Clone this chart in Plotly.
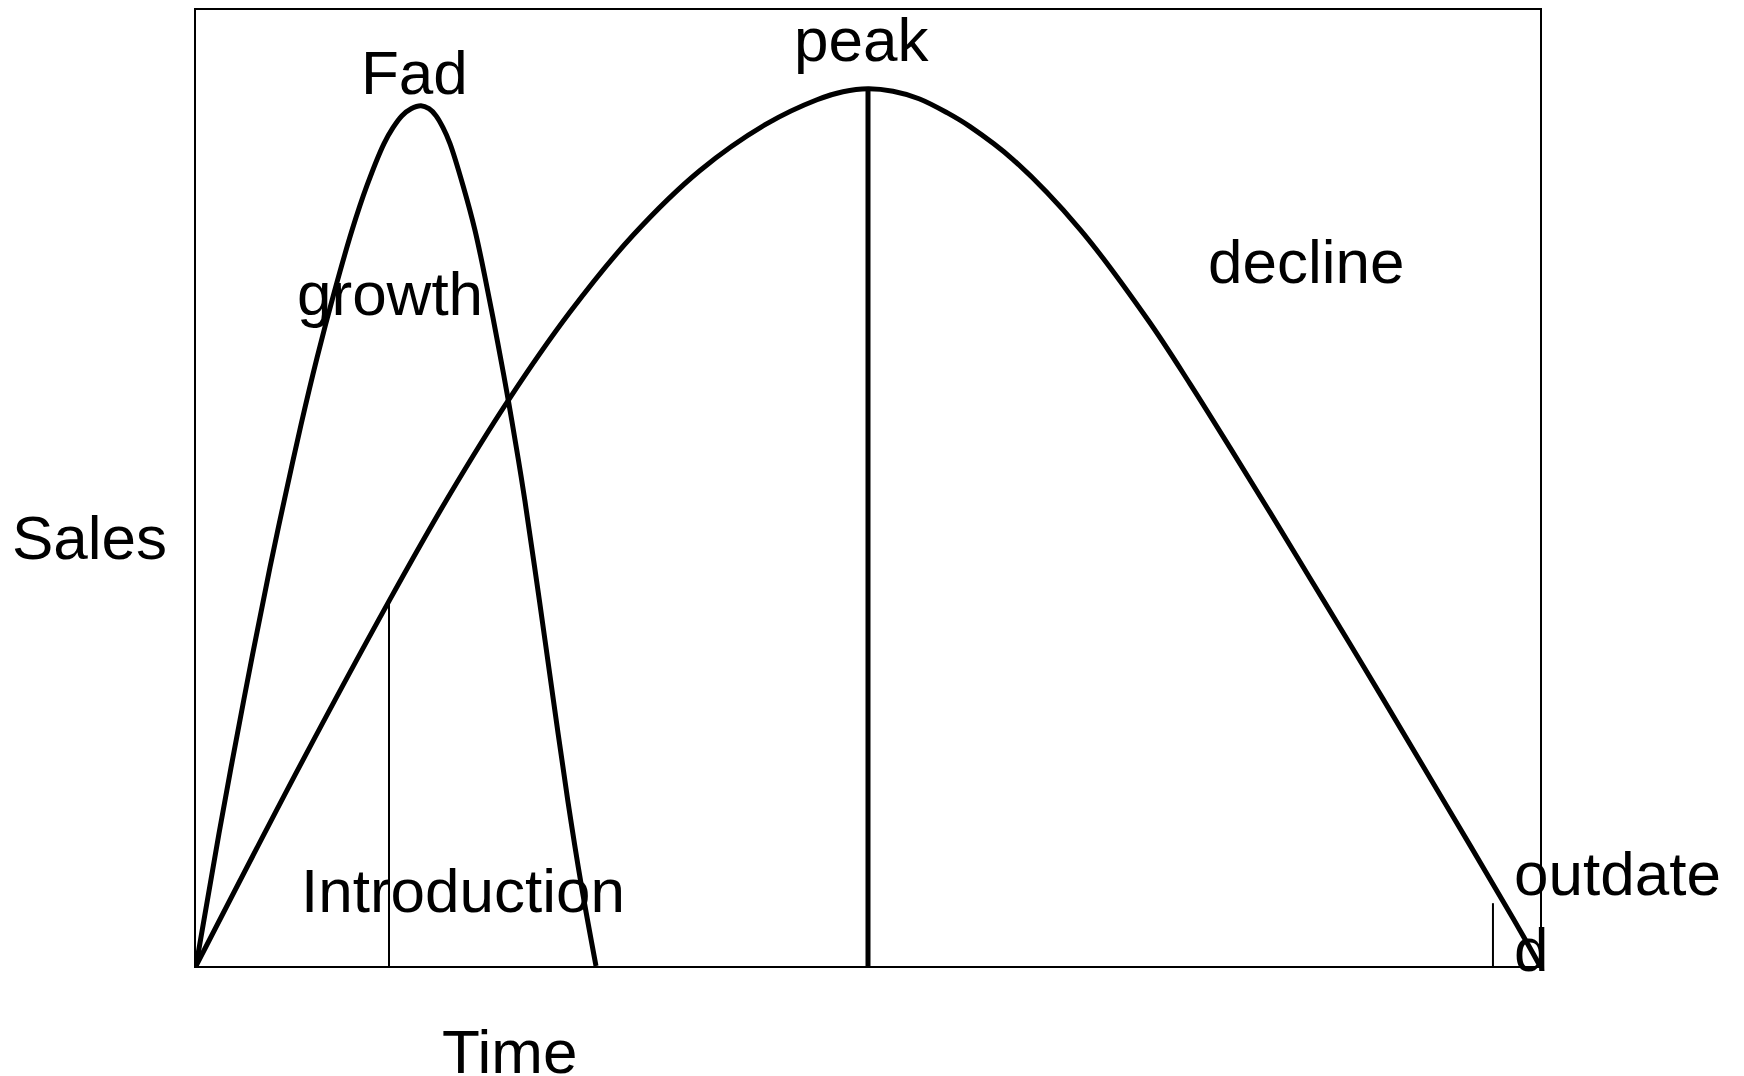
import plotly.graph_objects as go

# ---- data (Time / Sales in chart units, 0-100) ----
fad_time = [0.0, 1.711, 3.571, 5.506, 6.548, 7.813, 9.003, 10.268, 11.607, 12.723, 13.988,
            14.658, 15.327, 16.004, 16.741, 17.336, 17.857, 18.378, 18.899, 19.866, 20.759,
            21.577, 22.440, 23.229, 23.973, 24.479, 25.558, 26.600, 27.664, 28.646, 29.762]
fad_sales = [0.0, 13.869, 27.946, 41.710, 48.592, 56.611, 63.608, 70.386, 76.955, 81.648,
             86.027, 87.695, 88.947, 89.677, 89.990, 89.677, 88.947, 87.695, 86.027, 81.648,
             76.955, 71.533, 65.276, 59.228, 53.076, 48.592, 38.165, 27.737, 17.310, 8.655, 0.0]

product_time = [0.0, 7.738, 14.360, 18.750, 23.214, 27.827, 32.515, 37.500, 42.485, 46.205,
                48.140, 50.0, 51.860, 53.795, 55.878, 57.589, 60.789, 65.774, 70.833, 73.958,
                76.935, 79.911, 82.887, 85.863, 88.318, 93.080, 97.991, 100.0]
product_sales = [0.0, 20.959, 38.165, 49.009, 59.124, 68.405, 76.434, 83.212, 88.113, 90.615,
                 91.449, 91.762, 91.502, 90.719, 89.260, 87.800, 84.359, 77.060, 67.570,
                 60.897, 54.223, 47.445, 40.563, 33.681, 27.946, 16.684, 5.005, 0.0]

# stage markers: time, top sales value, line width
marker_time = [14.36, 50.00, 96.50]
marker_top = [38.165, 91.762, 6.57]
marker_width = [2, 5, 2]

labels = ["Fad", "peak", "growth", "decline", "Introduction", "outdate", "d"]
label_x = [16.29, 49.55, 14.40, 82.59, 19.87, 97.95, 97.95]
label_y = [93.5, 96.87, 70.3, 73.7, 7.92, 9.70, 1.77]
label_anchor = ["center", "center", "center", "center", "center", "left", "left"]

axis_labels = ["Time", "Sales"]
axis_label_px = [0.2336, -0.0796]   # paper fractions
axis_label_py = [-0.089, 0.4485]

FONT = "Liberation Sans, Arial, sans-serif"
FS = 62

fig = go.Figure()
fig.add_trace(go.Scatter(x=product_time, y=product_sales, mode="lines",
                         line=dict(color="black", width=5, shape="spline", smoothing=1.0),
                         hoverinfo="skip", showlegend=False))
fig.add_trace(go.Scatter(x=fad_time, y=fad_sales, mode="lines",
                         line=dict(color="black", width=5, shape="spline", smoothing=1.0),
                         hoverinfo="skip", showlegend=False))
for t, top, w in zip(marker_time, marker_top, marker_width):
    fig.add_trace(go.Scatter(x=[t, t], y=[0, top], mode="lines",
                             line=dict(color="black", width=w),
                             hoverinfo="skip", showlegend=False))

annotations = []
for txt, x, y, a in zip(labels, label_x, label_y, label_anchor):
    annotations.append(dict(x=x, y=y, xref="x", yref="y", text=txt, showarrow=False,
                            xanchor=a, yanchor="middle",
                            font=dict(family=FONT, size=FS, color="black")))
for txt, x, y in zip(axis_labels, axis_label_px, axis_label_py):
    annotations.append(dict(x=x, y=y, xref="paper", yref="paper", text=txt, showarrow=False,
                            xanchor="center", yanchor="middle",
                            font=dict(family=FONT, size=FS, color="black")))

# the page body adds an 8px margin, so the figure is made 8px smaller and shifted
fig.update_layout(
    width=1736, height=1068,
    margin=dict(l=188, r=204, t=0, b=110, pad=0),
    paper_bgcolor="white", plot_bgcolor="white",
    annotations=annotations,
    xaxis=dict(range=[0, 100], showgrid=False, zeroline=False, showticklabels=False,
               ticks="", showline=True, mirror=True, linecolor="black", linewidth=2),
    yaxis=dict(range=[0, 100], showgrid=False, zeroline=False, showticklabels=False,
               ticks="", showline=True, mirror=True, linecolor="black", linewidth=2),
)

fig.write_html("out.html")
